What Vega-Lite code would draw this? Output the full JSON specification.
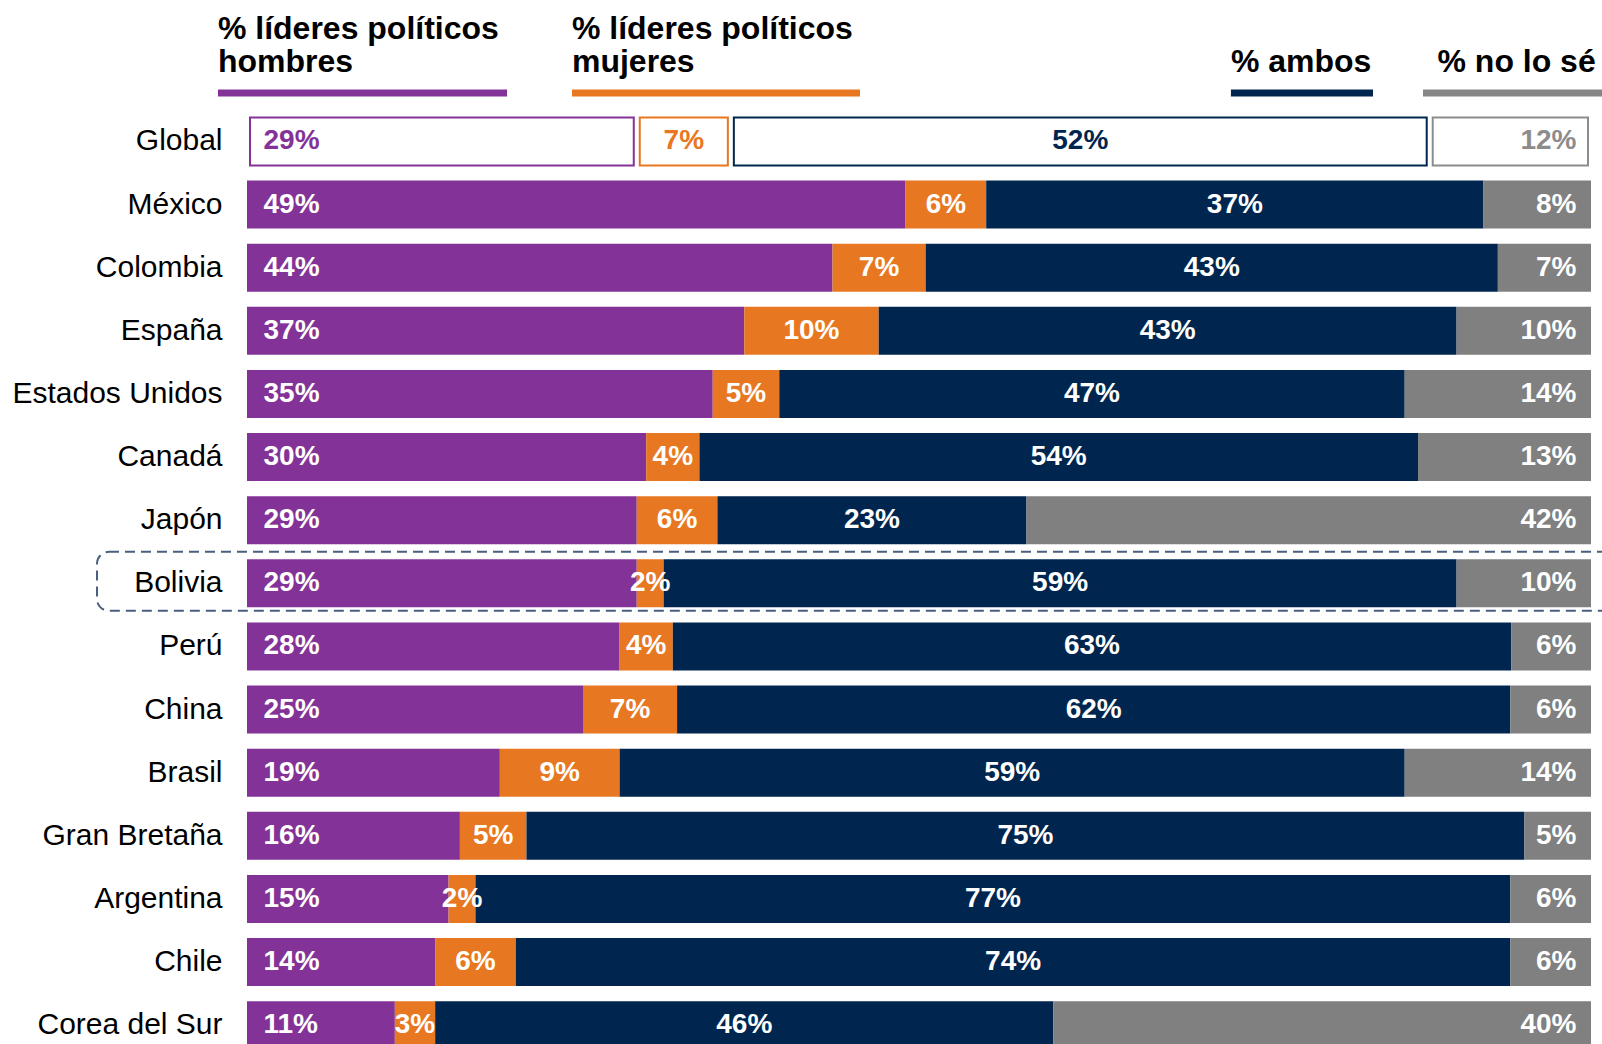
{
  "$schema": "https://vega.github.io/schema/vega-lite/v6.json",
  "autosize": {"type": "none"},
  "padding": {"left": 247, "top": 46.8, "right": 11, "bottom": 0},
  "width": 1344,
  "height": 997,
  "background": "white",
  "config": {"view": {"stroke": null}, "font": "Liberation Sans"},
  "data": {"values": [
    {"country": "Global", "cat": "hombres", "order": 1, "value": 29},
    {"country": "Global", "cat": "mujeres", "order": 2, "value": 7},
    {"country": "Global", "cat": "ambos", "order": 3, "value": 52},
    {"country": "Global", "cat": "nolose", "order": 4, "value": 12},
    {"country": "México", "cat": "hombres", "order": 1, "value": 49},
    {"country": "México", "cat": "mujeres", "order": 2, "value": 6},
    {"country": "México", "cat": "ambos", "order": 3, "value": 37},
    {"country": "México", "cat": "nolose", "order": 4, "value": 8},
    {"country": "Colombia", "cat": "hombres", "order": 1, "value": 44},
    {"country": "Colombia", "cat": "mujeres", "order": 2, "value": 7},
    {"country": "Colombia", "cat": "ambos", "order": 3, "value": 43},
    {"country": "Colombia", "cat": "nolose", "order": 4, "value": 7},
    {"country": "España", "cat": "hombres", "order": 1, "value": 37},
    {"country": "España", "cat": "mujeres", "order": 2, "value": 10},
    {"country": "España", "cat": "ambos", "order": 3, "value": 43},
    {"country": "España", "cat": "nolose", "order": 4, "value": 10},
    {"country": "Estados Unidos", "cat": "hombres", "order": 1, "value": 35},
    {"country": "Estados Unidos", "cat": "mujeres", "order": 2, "value": 5},
    {"country": "Estados Unidos", "cat": "ambos", "order": 3, "value": 47},
    {"country": "Estados Unidos", "cat": "nolose", "order": 4, "value": 14},
    {"country": "Canadá", "cat": "hombres", "order": 1, "value": 30},
    {"country": "Canadá", "cat": "mujeres", "order": 2, "value": 4},
    {"country": "Canadá", "cat": "ambos", "order": 3, "value": 54},
    {"country": "Canadá", "cat": "nolose", "order": 4, "value": 13},
    {"country": "Japón", "cat": "hombres", "order": 1, "value": 29},
    {"country": "Japón", "cat": "mujeres", "order": 2, "value": 6},
    {"country": "Japón", "cat": "ambos", "order": 3, "value": 23},
    {"country": "Japón", "cat": "nolose", "order": 4, "value": 42},
    {"country": "Bolivia", "cat": "hombres", "order": 1, "value": 29},
    {"country": "Bolivia", "cat": "mujeres", "order": 2, "value": 2},
    {"country": "Bolivia", "cat": "ambos", "order": 3, "value": 59},
    {"country": "Bolivia", "cat": "nolose", "order": 4, "value": 10},
    {"country": "Perú", "cat": "hombres", "order": 1, "value": 28},
    {"country": "Perú", "cat": "mujeres", "order": 2, "value": 4},
    {"country": "Perú", "cat": "ambos", "order": 3, "value": 63},
    {"country": "Perú", "cat": "nolose", "order": 4, "value": 6},
    {"country": "China", "cat": "hombres", "order": 1, "value": 25},
    {"country": "China", "cat": "mujeres", "order": 2, "value": 7},
    {"country": "China", "cat": "ambos", "order": 3, "value": 62},
    {"country": "China", "cat": "nolose", "order": 4, "value": 6},
    {"country": "Brasil", "cat": "hombres", "order": 1, "value": 19},
    {"country": "Brasil", "cat": "mujeres", "order": 2, "value": 9},
    {"country": "Brasil", "cat": "ambos", "order": 3, "value": 59},
    {"country": "Brasil", "cat": "nolose", "order": 4, "value": 14},
    {"country": "Gran Bretaña", "cat": "hombres", "order": 1, "value": 16},
    {"country": "Gran Bretaña", "cat": "mujeres", "order": 2, "value": 5},
    {"country": "Gran Bretaña", "cat": "ambos", "order": 3, "value": 75},
    {"country": "Gran Bretaña", "cat": "nolose", "order": 4, "value": 5},
    {"country": "Argentina", "cat": "hombres", "order": 1, "value": 15},
    {"country": "Argentina", "cat": "mujeres", "order": 2, "value": 2},
    {"country": "Argentina", "cat": "ambos", "order": 3, "value": 77},
    {"country": "Argentina", "cat": "nolose", "order": 4, "value": 6},
    {"country": "Chile", "cat": "hombres", "order": 1, "value": 14},
    {"country": "Chile", "cat": "mujeres", "order": 2, "value": 6},
    {"country": "Chile", "cat": "ambos", "order": 3, "value": 74},
    {"country": "Chile", "cat": "nolose", "order": 4, "value": 6},
    {"country": "Corea del Sur", "cat": "hombres", "order": 1, "value": 11},
    {"country": "Corea del Sur", "cat": "mujeres", "order": 2, "value": 3},
    {"country": "Corea del Sur", "cat": "ambos", "order": 3, "value": 46},
    {"country": "Corea del Sur", "cat": "nolose", "order": 4, "value": 40}
  ]},
  "transform": [
    {"joinaggregate": [{"op": "sum", "field": "value", "as": "total"}], "groupby": ["country"]},
    {"window": [{"op": "sum", "field": "value", "as": "cum"}], "groupby": ["country"], "sort": [{"field": "order"}], "frame": [null, 0]},
    {"calculate": "(datum.cum - datum.value) / datum.total", "as": "x0"},
    {"calculate": "datum.cum / datum.total", "as": "x1"},
    {"calculate": "(datum.x0 + datum.x1) / 2", "as": "xm"},
    {"calculate": "datum.value + '%'", "as": "label"}
  ],
  "encoding": {
    "y": {
      "field": "country", "type": "nominal", "title": null,
      "scale": {"domain": ["", "Global", "México", "Colombia", "España", "Estados Unidos", "Canadá", "Japón", "Bolivia", "Perú", "China", "Brasil", "Gran Bretaña", "Argentina", "Chile", "Corea del Sur"], "range": [0, 1010], "paddingInner": 0.24, "paddingOuter": 0.12},
      "axis": {"domain": false, "ticks": false, "labelFontSize": 30, "labelColor": "#000000", "labelPadding": 25, "labelFont": "Liberation Sans", "labelLimit": 0, "labelFontWeight": "normal"}
    }
  },
  "layer": [
    {
      "data": {"values": [{"country": "Bolivia"}]},
      "mark": {"type": "bar", "filled": false, "stroke": "#4a5f80", "strokeWidth": 2, "strokeDash": [10, 6], "cornerRadius": 12, "height": 59, "yOffset": -2},
      "encoding": {
        "x": {"datum": -0.1116, "type": "quantitative", "scale": {"domain": [0, 1]}, "axis": null},
        "x2": {"datum": 1.05}
      }
    },
    {
      "transform": [{"filter": "datum.country !== 'Global'"}],
      "mark": {"type": "bar"},
      "encoding": {
        "x": {"field": "x0", "type": "quantitative", "scale": {"domain": [0, 1]}, "axis": null},
        "x2": {"field": "x1"},
        "color": {"field": "cat", "type": "nominal", "scale": {"domain": ["hombres", "mujeres", "ambos", "nolose"], "range": ["#833398", "#e87722", "#00264f", "#808080"]}, "legend": null}
      }
    },
    {
      "transform": [{"filter": "datum.country === 'Global'"}],
      "mark": {"type": "bar", "fill": "white", "strokeWidth": 2, "xOffset": 3, "x2Offset": -3},
      "encoding": {
        "x": {"field": "x0", "type": "quantitative", "scale": {"domain": [0, 1]}, "axis": null},
        "x2": {"field": "x1"},
        "stroke": {"field": "cat", "type": "nominal", "scale": {"domain": ["hombres", "mujeres", "ambos", "nolose"], "range": ["#833398", "#e87722", "#00264f", "#8c8c8c"]}, "legend": null}
      }
    },
    {
      "transform": [{"filter": "datum.cat === 'hombres'"}],
      "mark": {"type": "text", "align": "left", "baseline": "middle", "dx": 16.5, "fontSize": 28, "fontWeight": "bold"},
      "encoding": {
        "x": {"datum": 0, "type": "quantitative", "scale": {"domain": [0, 1]}, "axis": null},
        "text": {"field": "label", "type": "nominal"},
        "color": {"condition": {"test": "datum.country === 'Global'", "field": "cat", "type": "nominal", "legend": null}, "value": "white"}
      }
    },
    {
      "transform": [{"filter": "datum.cat === 'mujeres' || datum.cat === 'ambos'"}],
      "mark": {"type": "text", "align": "center", "baseline": "middle", "fontSize": 28, "fontWeight": "bold"},
      "encoding": {
        "x": {"field": "xm", "type": "quantitative", "scale": {"domain": [0, 1]}, "axis": null},
        "text": {"field": "label", "type": "nominal"},
        "color": {"condition": {"test": "datum.country === 'Global'", "field": "cat", "type": "nominal", "legend": null}, "value": "white"}
      }
    },
    {
      "transform": [{"filter": "datum.cat === 'nolose'"}],
      "mark": {"type": "text", "align": "right", "baseline": "middle", "dx": -14.5, "fontSize": 28, "fontWeight": "bold"},
      "encoding": {
        "x": {"datum": 1, "type": "quantitative", "scale": {"domain": [0, 1]}, "axis": null},
        "text": {"field": "label", "type": "nominal"},
        "color": {"condition": {"test": "datum.country === 'Global'", "value": "#8c8c8c"}, "value": "white"}
      }
    },
    {
      "data": {"values": [{"country": ""}]},
      "mark": {"type": "bar", "height": 7, "yOffset": 14.6, "color": "#833398"},
      "encoding": {"x": {"datum": -0.0216, "type": "quantitative", "scale": {"domain": [0, 1]}, "axis": null}, "x2": {"datum": 0.1935}}
    },
    {
      "data": {"values": [{"country": ""}]},
      "mark": {"type": "bar", "height": 7, "yOffset": 14.6, "color": "#e87722"},
      "encoding": {"x": {"datum": 0.2418, "type": "quantitative", "scale": {"domain": [0, 1]}, "axis": null}, "x2": {"datum": 0.4561}}
    },
    {
      "data": {"values": [{"country": ""}]},
      "mark": {"type": "bar", "height": 7, "yOffset": 14.6, "color": "#00264f"},
      "encoding": {"x": {"datum": 0.7321, "type": "quantitative", "scale": {"domain": [0, 1]}, "axis": null}, "x2": {"datum": 0.8378}}
    },
    {
      "data": {"values": [{"country": ""}]},
      "mark": {"type": "bar", "height": 7, "yOffset": 14.6, "color": "#868686"},
      "encoding": {"x": {"datum": 0.875, "type": "quantitative", "scale": {"domain": [0, 1]}, "axis": null}, "x2": {"datum": 1.01}}
    },
    {
      "data": {"values": [{"country": ""}]},
      "mark": {"type": "text", "text": ["% líderes políticos", "hombres"], "align": "left", "baseline": "alphabetic", "dy": -39.6, "lineHeight": 33.7, "fontSize": 32, "fontWeight": "bold", "color": "#000000"},
      "encoding": {"x": {"datum": -0.0216, "type": "quantitative", "scale": {"domain": [0, 1]}, "axis": null}}
    },
    {
      "data": {"values": [{"country": ""}]},
      "mark": {"type": "text", "text": ["% líderes políticos", "mujeres"], "align": "left", "baseline": "alphabetic", "dy": -39.6, "lineHeight": 33.7, "fontSize": 32, "fontWeight": "bold", "color": "#000000"},
      "encoding": {"x": {"datum": 0.2418, "type": "quantitative", "scale": {"domain": [0, 1]}, "axis": null}}
    },
    {
      "data": {"values": [{"country": ""}]},
      "mark": {"type": "text", "text": "% ambos", "align": "left", "baseline": "alphabetic", "dy": -5.9, "fontSize": 32, "fontWeight": "bold", "color": "#000000"},
      "encoding": {"x": {"datum": 0.7321, "type": "quantitative", "scale": {"domain": [0, 1]}, "axis": null}}
    },
    {
      "data": {"values": [{"country": ""}]},
      "mark": {"type": "text", "text": "% no lo sé", "align": "left", "baseline": "alphabetic", "dy": -5.9, "fontSize": 32, "fontWeight": "bold", "color": "#000000"},
      "encoding": {"x": {"datum": 0.8858, "type": "quantitative", "scale": {"domain": [0, 1]}, "axis": null}}
    }
  ]
}
